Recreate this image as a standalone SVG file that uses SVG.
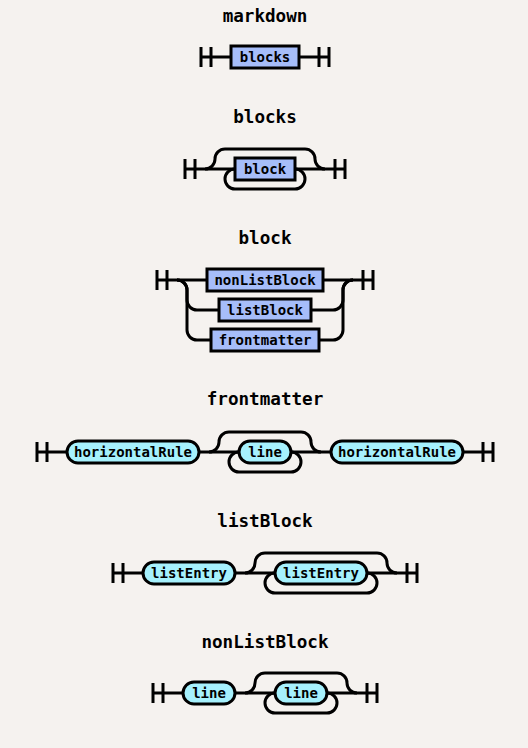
<svg xmlns="http://www.w3.org/2000/svg" width="528" height="748" viewBox="0 0 528 748">
<style>
.bg{fill:#f5f2ef}
.title{font-family:"DejaVu Sans Mono","Liberation Mono",monospace;font-weight:bold;font-size:17.6px;fill:#000;text-anchor:middle}
.lbl{font-family:"DejaVu Sans Mono","Liberation Mono",monospace;font-weight:bold;font-size:14px;fill:#000;text-anchor:middle}
.nt{fill:#a6bdf9;stroke:#000;stroke-width:3}
.t{fill:#a6f1fd;stroke:#000;stroke-width:3}
.c path{fill:none;stroke:#000;stroke-width:3}
</style>
<rect class="bg" x="0" y="0" width="528" height="748"/>

<!-- markdown -->
<g id="diagram-markdown">
<text class="title" x="265" y="22">markdown</text>
<g class="c" id="connectors-markdown">
<path d="M201 47 v20 m10 -20 v20 m-10 -10 h20 H231"/>
<path d="M299 57 H309 h20 m-10 -10 v20 m10 -20 v20"/>
</g>
<g id="markdown-blocks"><rect class="nt" x="231" y="46" width="68" height="22"/><text class="lbl" x="265" y="62">blocks</text></g>
</g>

<!-- blocks -->
<g id="diagram-blocks">
<text class="title" x="265" y="123">blocks</text>
<g class="c" id="connectors-blocks">
<path d="M185 159 v20 m10 -20 v20 m-10 -10 h20 H235"/>
<path d="M295 169 H325 h20 m-10 -10 v20 m10 -20 v20"/>
<path d="M205 169 a10 10 0 0 0 10 -10 a10 10 0 0 1 10 -10 H305 a10 10 0 0 1 10 10 a10 10 0 0 0 10 10"/>
<path d="M235 169 a10 10 0 0 0 -10 10 a10 10 0 0 0 10 10 H295 a10 10 0 0 0 10 -10 a10 10 0 0 0 -10 -10"/>
</g>
<g id="blocks-block"><rect class="nt" x="235" y="158" width="60" height="22"/><text class="lbl" x="265" y="174">block</text></g>
</g>

<!-- block -->
<g id="diagram-block">
<text class="title" x="265" y="244">block</text>
<g class="c" id="connectors-block">
<path d="M157 270 v20 m10 -20 v20 m-10 -10 h20 H207"/>
<path d="M323 280 H353 h20 m-10 -10 v20 m10 -20 v20"/>
<path d="M177 280 a10 10 0 0 1 10 10 V300 a10 10 0 0 0 10 10 H219"/>
<path d="M311 310 H333 a10 10 0 0 0 10 -10 V290 a10 10 0 0 1 10 -10"/>
<path d="M177 280 a10 10 0 0 1 10 10 V330 a10 10 0 0 0 10 10 H211"/>
<path d="M319 340 H333 a10 10 0 0 0 10 -10 V290 a10 10 0 0 1 10 -10"/>
</g>
<g id="block-nonListBlock"><rect class="nt" x="207" y="269" width="116" height="22"/><text class="lbl" x="265" y="285">nonListBlock</text></g>
<g id="block-listBlock"><rect class="nt" x="219" y="299" width="92" height="22"/><text class="lbl" x="265" y="315">listBlock</text></g>
<g id="block-frontmatter"><rect class="nt" x="211" y="329" width="108" height="22"/><text class="lbl" x="265" y="345">frontmatter</text></g>
</g>

<!-- frontmatter -->
<g id="diagram-frontmatter">
<text class="title" x="265" y="405">frontmatter</text>
<g class="c" id="connectors-frontmatter">
<path d="M37 442 v20 m10 -20 v20 m-10 -10 h20 H67"/>
<path d="M199 452 H239"/>
<path d="M291 452 H331"/>
<path d="M209 452 a10 10 0 0 0 10 -10 a10 10 0 0 1 10 -10 H301 a10 10 0 0 1 10 10 a10 10 0 0 0 10 10"/>
<path d="M239 452 a10 10 0 0 0 -10 10 a10 10 0 0 0 10 10 H291 a10 10 0 0 0 10 -10 a10 10 0 0 0 -10 -10"/>
<path d="M463 452 H473 h20 m-10 -10 v20 m10 -20 v20"/>
</g>
<g id="frontmatter-horizontalRule-1"><rect class="t" x="67" y="441" width="132" height="22" rx="11"/><text class="lbl" x="133" y="457">horizontalRule</text></g>
<g id="frontmatter-line"><rect class="t" x="239" y="441" width="52" height="22" rx="11"/><text class="lbl" x="265" y="457">line</text></g>
<g id="frontmatter-horizontalRule-2"><rect class="t" x="331" y="441" width="132" height="22" rx="11"/><text class="lbl" x="397" y="457">horizontalRule</text></g>
</g>

<!-- listBlock -->
<g id="diagram-listBlock">
<text class="title" x="265" y="527">listBlock</text>
<g class="c" id="connectors-listBlock">
<path d="M113 563 v20 m10 -20 v20 m-10 -10 h20 H143"/>
<path d="M235 573 H275"/>
<path d="M367 573 H397 h20 m-10 -10 v20 m10 -20 v20"/>
<path d="M245 573 a10 10 0 0 0 10 -10 a10 10 0 0 1 10 -10 H377 a10 10 0 0 1 10 10 a10 10 0 0 0 10 10"/>
<path d="M275 573 a10 10 0 0 0 -10 10 a10 10 0 0 0 10 10 H367 a10 10 0 0 0 10 -10 a10 10 0 0 0 -10 -10"/>
</g>
<g id="listBlock-listEntry-1"><rect class="t" x="143" y="562" width="92" height="22" rx="11"/><text class="lbl" x="189" y="578">listEntry</text></g>
<g id="listBlock-listEntry-2"><rect class="t" x="275" y="562" width="92" height="22" rx="11"/><text class="lbl" x="321" y="578">listEntry</text></g>
</g>

<!-- nonListBlock -->
<g id="diagram-nonListBlock">
<text class="title" x="265" y="648">nonListBlock</text>
<g class="c" id="connectors-nonListBlock">
<path d="M153 683 v20 m10 -20 v20 m-10 -10 h20 H183"/>
<path d="M235 693 H275"/>
<path d="M327 693 H357 h20 m-10 -10 v20 m10 -20 v20"/>
<path d="M245 693 a10 10 0 0 0 10 -10 a10 10 0 0 1 10 -10 H337 a10 10 0 0 1 10 10 a10 10 0 0 0 10 10"/>
<path d="M275 693 a10 10 0 0 0 -10 10 a10 10 0 0 0 10 10 H327 a10 10 0 0 0 10 -10 a10 10 0 0 0 -10 -10"/>
</g>
<g id="nonListBlock-line-1"><rect class="t" x="183" y="682" width="52" height="22" rx="11"/><text class="lbl" x="209" y="698">line</text></g>
<g id="nonListBlock-line-2"><rect class="t" x="275" y="682" width="52" height="22" rx="11"/><text class="lbl" x="301" y="698">line</text></g>
</g>
</svg>
